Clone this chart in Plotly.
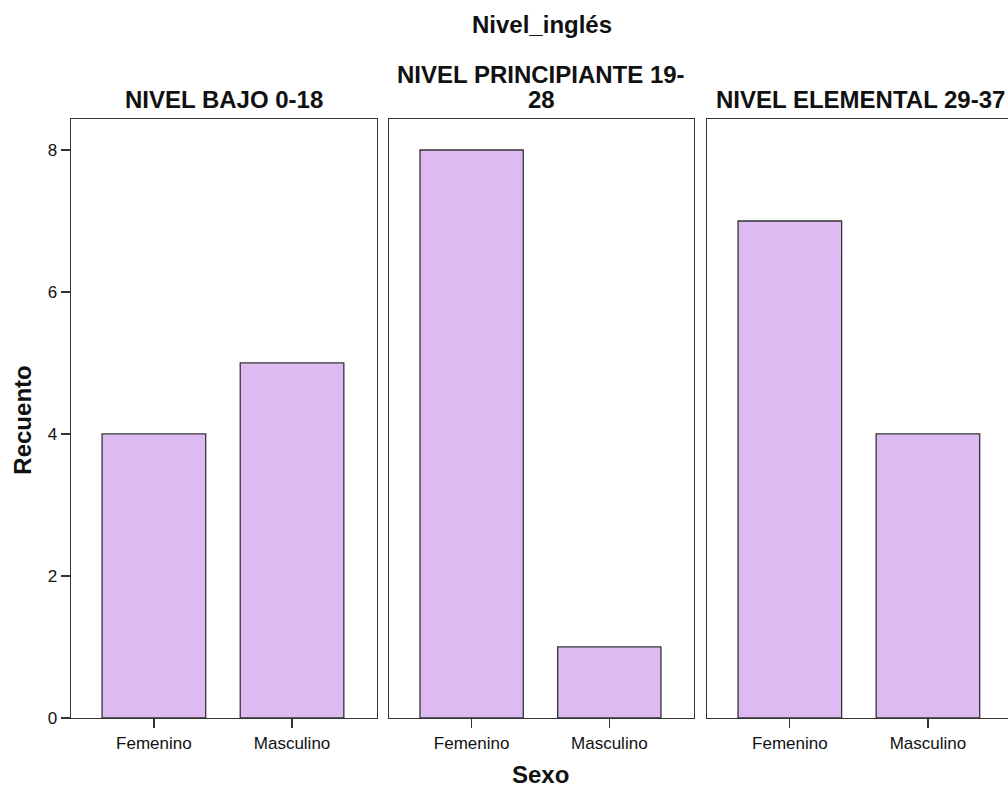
import plotly.graph_objects as go

categorias = ["Femenino", "Masculino"]
niveles = ["NIVEL BAJO 0-18", "NIVEL PRINCIPIANTE 19-", "28", "NIVEL ELEMENTAL 29-37"]
recuento_bajo = [4, 5]
recuento_principiante = [8, 1]
recuento_elemental = [7, 4]
y_ticks = [0, 2, 4, 6, 8]

W, H = 1008, 797
def px(x):
    return x / W
def py(y):
    return (H - y) / H

BAR = "#DEBAF2"
LINE = "#333333"
FONT = "Liberation Sans, Arial, sans-serif"

series = [recuento_bajo, recuento_principiante, recuento_elemental]
fig = go.Figure()
for i, vals in enumerate(series):
    sfx = "" if i == 0 else str(i + 1)
    fig.add_trace(go.Bar(
        x=categorias, y=vals, width=0.75,
        marker=dict(color=BAR, line=dict(color=LINE, width=1.3)),
        xaxis="x" + sfx, yaxis="y" + sfx, showlegend=False,
        hoverinfo="skip",
    ))

domains = [(71, 377), (389, 694), (707, 1008)]
xranges = [[-0.6, 1.615], [-0.6, 1.615], [-0.6, 1.58]]
ydom = [py(727), py(121)]
lay = {}
for i, (d, r) in enumerate(zip(domains, xranges)):
    sfx = "" if i == 0 else str(i + 1)
    lay["xaxis" + sfx] = dict(
        domain=[px(d[0]), px(d[1])], range=r, anchor="y" + sfx,
        showline=True, mirror=True, linecolor=LINE, linewidth=1.3,
        ticks="outside", ticklen=9, tickcolor=LINE, tickwidth=1.3,
        tickfont=dict(family=FONT, size=17, color="#111"),
        showgrid=False, zeroline=False, fixedrange=True,
    )
    lay["yaxis" + sfx] = dict(
        domain=ydom, range=[0, 8.43], anchor="x" + sfx,
        showline=True, mirror=(i < 2), linecolor=LINE, linewidth=1.3,
        ticks="outside" if i == 0 else "", ticklen=9, tickcolor=LINE, tickwidth=1.3,
        tickvals=y_ticks, showticklabels=(i == 0),
        tickfont=dict(family=FONT, size=17, color="#111"),
        showgrid=False, zeroline=False, fixedrange=True,
    )

BIG = 24
sub_pos = [(224, 100.5), (541, 75), (541, 100.5), (860, 100.5)]
annotations = []
for (cx, cy), t in zip(sub_pos, niveles):
    annotations.append(dict(
        x=px(cx), y=py(cy), xref="paper", yref="paper", text="<b>%s</b>" % t,
        showarrow=False, xanchor="center", yanchor="middle",
        font=dict(family=FONT, size=BIG, color="#111"),
    ))
annotations.append(dict(x=px(542), y=py(25), xref="paper", yref="paper",
                        text="<b>Nivel_inglés</b>", showarrow=False,
                        xanchor="center", yanchor="middle",
                        font=dict(family=FONT, size=BIG, color="#111")))
annotations.append(dict(x=px(540), y=py(784), xref="paper", yref="paper",
                        text="<b>Sexo</b>", showarrow=False,
                        xanchor="center", yanchor="middle",
                        font=dict(family=FONT, size=BIG, color="#111")))
annotations.append(dict(x=px(23), y=py(426), xref="paper", yref="paper",
                        text="<b>Recuento</b>", showarrow=False, textangle=-90,
                        xanchor="center", yanchor="middle",
                        font=dict(family=FONT, size=BIG, color="#111")))

fig.update_layout(
    width=W, height=H,
    margin=dict(l=0, r=0, t=0, b=0),
    paper_bgcolor="white", plot_bgcolor="white",
    annotations=annotations, bargap=0.25, hovermode=False,
    **lay,
)
fig.write_html("out.html", config={"displayModeBar": False, "staticPlot": True},
               post_script="document.body.style.margin='0';document.body.style.overflow='hidden';")
